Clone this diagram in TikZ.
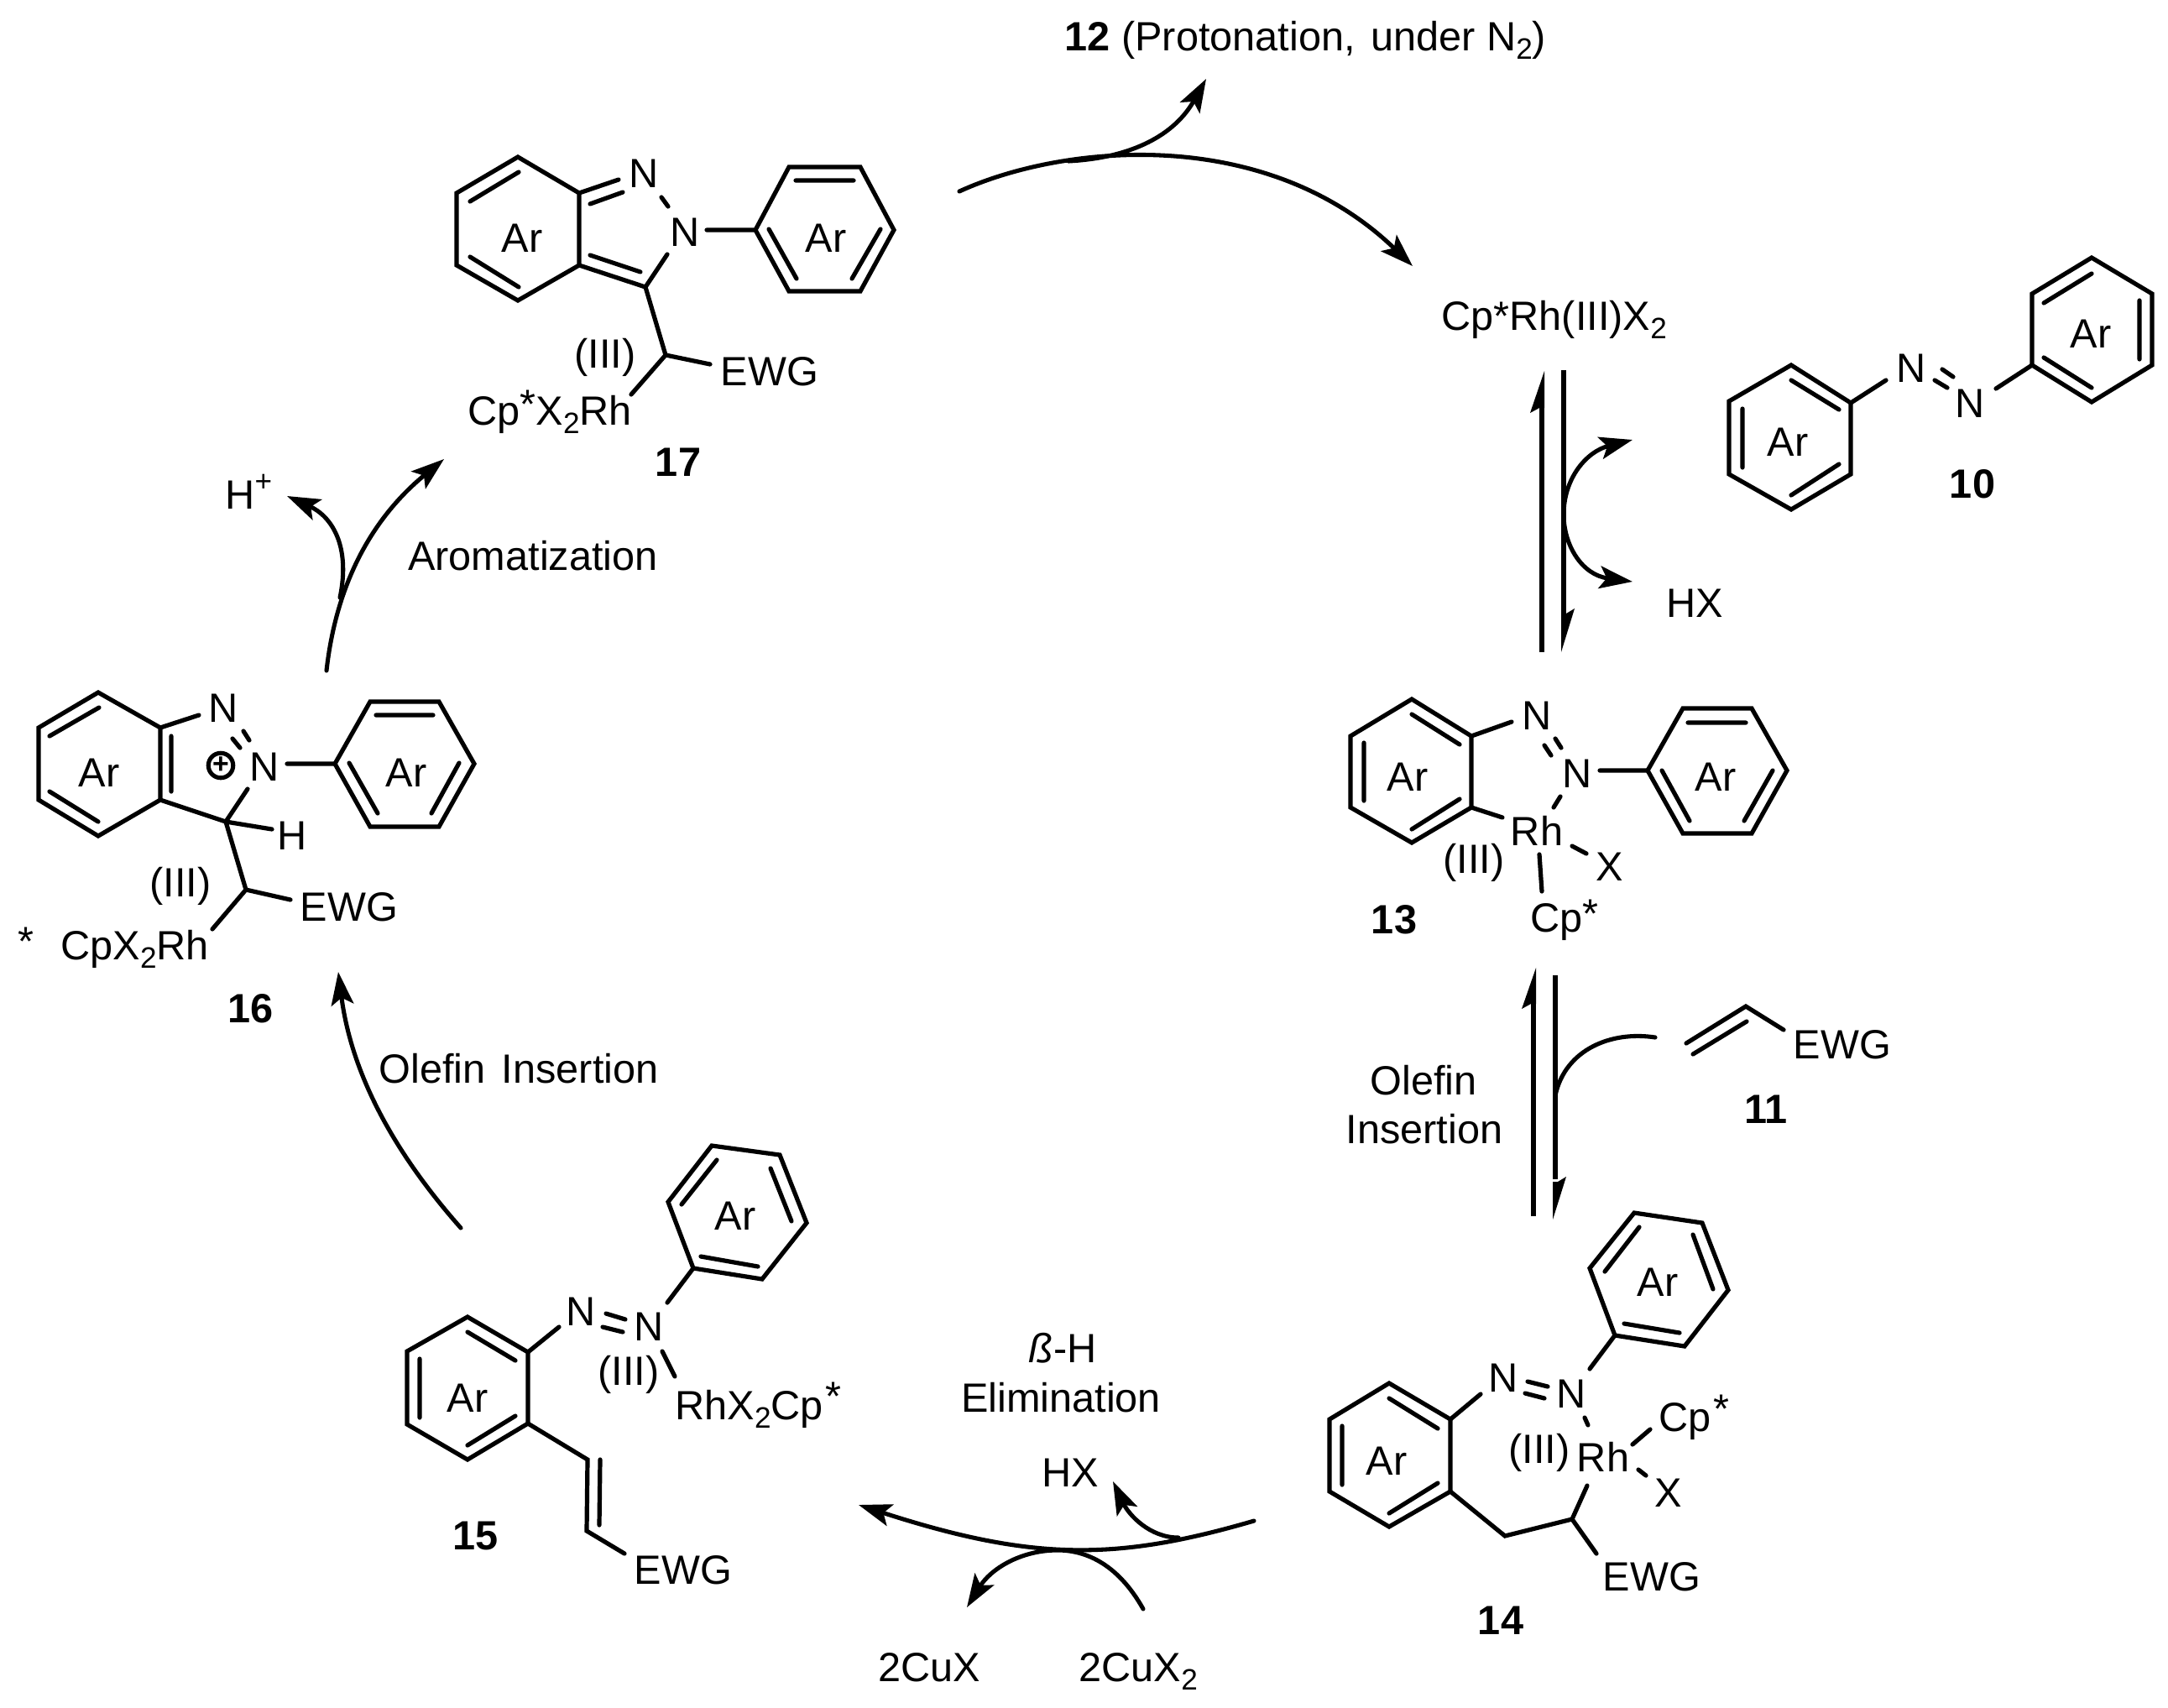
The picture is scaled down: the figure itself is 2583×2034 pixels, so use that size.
\documentclass[tikz,border=0pt]{standalone}
\usepackage{fontspec}
\setmainfont{Liberation Sans}
\usetikzlibrary{arrows.meta}
\newcommand{\sbt}[1]{\raisebox{-.22em}{\fontsize{12.5}{12.5}\selectfont #1}}
\newcommand{\upstar}[1]{\raisebox{#1}{*}}
\tikzset{
  bond/.style={line width=1.85pt,line cap=round,line join=miter,black},
  flow/.style={line width=1.8pt,line cap=round,black},
  arr/.style={flow,-{Stealth[length=14pt,width=9.5pt,inset=3pt]}},
  chem/.style={inner sep=0pt,anchor=base,font=\fontsize{17.3}{20}\selectfont},
  chemw/.style={chem,anchor=base west},
  num/.style={chem,font=\fontsize{17.3}{20}\selectfont\bfseries},
  half/.style={fill=black,draw=none}
}
\begin{document}
\begin{tikzpicture}[x=0.0125cm,y=-0.0125cm]
\useasboundingbox (0,0) rectangle (2583,2034);
% ---------- 10 ----------
\draw[bond] (2134,435)--(2205,480)--(2205,565)--(2134,607)--(2060,565)--(2060,478)--cycle;
\draw[bond] (2134,453)--(2191,488) (2076,487)--(2076,557) (2134,590)--(2191,553);
\draw[bond] (2205,480)--(2247,453) (2314,440)--(2327,449) (2305,453)--(2320,462) (2378,463)--(2421,435);
\draw[bond] (2421,435)--(2421,350)--(2492,307)--(2564,350)--(2564,435)--(2492,479)--cycle;
\draw[bond] (2435,361)--(2492,326) (2549,358)--(2549,428) (2435,426)--(2492,462);
\node[chem] (ar10a) at (2130,543) {Ar};
\node[chem] (ar10b) at (2491,414) {Ar};
\node[chem] (n10a) at (2277,455) {N};
\node[chem] (n10b) at (2347,497) {N};
\node[num] (l10) at (2350,593) {10};
% ---------- 11 ----------
\draw[bond] (2009,1243)--(2080,1199)--(2125,1227) (2017,1256)--(2081,1217);
\node[chem] (ewg11) at (2195,1261) {EWG};
\node[num] (l11) at (2104,1338) {11};
% ---------- 13 ----------
\draw[bond] (1682,833)--(1753,877)--(1753,962)--(1682,1004)--(1609,962)--(1609,877)--cycle;
\draw[bond] (1682,851)--(1739,887) (1625,885)--(1625,954) (1682,988)--(1739,952);
\draw[bond] (1753,877)--(1801,860) (1853,880)--(1860,891) (1840,888)--(1848,900) (1906,918)--(1963,918);
\draw[bond] (1963,918)--(2005,844)--(2087,844)--(2129,918)--(2087,993)--(2005,993)--cycle;
\draw[bond] (2011,861)--(2080,861) (1980,918)--(2013,978) (2112,918)--(2078,978);
\draw[bond] (1859,949)--(1851,962) (1753,962)--(1790,974) (1873,1008)--(1890,1017) (1834,1018)--(1837,1062);
\node[chem] (ar13a) at (1677,942) {Ar};
\node[chem] (ar13b) at (2044,942) {Ar};
\node[chem] (n13a) at (1831,869) {N};
\node[chem] (n13b) at (1879,938) {N};
\node[chem] (rh13) at (1831,1007) {Rh};
\node[chem] (x13) at (1918,1049) {X};
\node[chem] (ox13) at (1756,1040) {(III)};
\node[chemw] (cp13) at (1823,1110) {Cp\upstar{.1em}};
\node[num] (l13) at (1661,1112) {13};
% ---------- 14 ----------
\draw[bond] (1655,1648)--(1728,1691)--(1728,1777)--(1655,1819)--(1584,1777)--(1584,1691)--cycle;
\draw[bond] (1655,1666)--(1713,1702) (1599,1699)--(1599,1769) (1655,1803)--(1713,1767);
\draw[bond] (1728,1691)--(1764,1661) (1820,1646)--(1844,1652) (1817,1660)--(1840,1666) (1894,1631)--(1924,1591);
\draw[bond] (1924,1591)--(1894,1511)--(1947,1445)--(2028,1457)--(2059,1537)--(2007,1604)--cycle;
\draw[bond] (1912,1515)--(1953,1462) (2017,1471)--(2041,1536) (1935,1577)--(2001,1588);
\draw[bond] (1888,1689)--(1892,1698) (1945,1721)--(1966,1703) (1952,1751)--(1961,1758);
\draw[bond] (1891,1770)--(1873,1810)--(1793,1830)--(1728,1777) (1873,1810)--(1902,1851);
\node[chem] (ar14a) at (1652,1757) {Ar};
\node[chem] (ar14b) at (1975,1544) {Ar};
\node[chem] (n14a) at (1791,1658) {N};
\node[chem] (n14b) at (1872,1677) {N};
\node[chem] (rh14) at (1910,1753) {Rh};
\node[chem] (ox14) at (1834,1743) {(III)};
\node[chemw] (cp14) at (1976,1705) {Cp\hspace{.06em}\upstar{.2em}};
\node[chem] (x14) at (1988,1795) {X};
\node[chem] (ewg14) at (1968,1895) {EWG};
\node[num] (l14) at (1788,1947) {14};
% ---------- 15 ----------
\draw[bond] (557,1569)--(629,1611)--(629,1696)--(557,1739)--(485,1697)--(485,1610)--cycle;
\draw[bond] (557,1587)--(614,1621) (500,1619)--(500,1689) (557,1722)--(614,1687);
\draw[bond] (629,1611)--(666,1581) (722,1565)--(745,1572) (718,1581)--(742,1587) (795,1552)--(826,1511);
\draw[bond] (826,1511)--(796,1432)--(848,1365)--(929,1376)--(961,1457)--(908,1524)--cycle;
\draw[bond] (812,1435)--(854,1382) (918,1392)--(943,1455) (835,1497)--(903,1509);
\draw[bond] (789,1610)--(804,1640);
\draw[bond] (629,1696)--(700,1739)--(699,1824)--(744,1851) (715,1739)--(714,1817);
\node[chem] (ar15a) at (557,1682) {Ar};
\node[chem] (ar15b) at (876,1465) {Ar};
\node[chem] (n15a) at (692,1579) {N};
\node[chem] (n15b) at (773,1597) {N};
\node[chem] (ox15) at (749,1650) {(III)};
\node[chemw] (rh15) at (804,1691) {RhX\sbt{2}Cp\hspace{.05em}\upstar{.22em}};
\node[chem] (ewg15) at (814,1887) {EWG};
\node[num] (l15) at (567,1846) {15};
% ---------- 16 ----------
\draw[bond] (117,825)--(191,867)--(191,953)--(117,996)--(46,953)--(46,867)--cycle;
\draw[bond] (59,877)--(118,843) (204,877)--(204,943) (59,943)--(117,979);
\draw[bond] (191,867)--(237,852) (290,871)--(297,882) (277,880)--(286,891) (342,910)--(399,910);
\draw[bond] (399,910)--(441,836)--(523,836)--(565,910)--(523,985)--(441,985)--cycle;
\draw[bond] (448,852)--(516,852) (416,909)--(450,969) (547,909)--(514,969);
\draw[bond] (191,953)--(269,979)--(295,940) (269,979)--(324,988) (269,979)--(293,1060)--(346,1072) (293,1060)--(253,1107);
\node[chem] (ar16a) at (118,937) {Ar};
\node[chem] (ar16b) at (484,937) {Ar};
\node[chem] (n16a) at (266,860) {N};
\node[chem] (n16b) at (315,930) {N};
\node[circle,draw,line width=1.8pt,minimum size=10.5pt,inner sep=0pt,font=\fontsize{12}{12}\selectfont\bfseries] (plus16) at (263,912) {+};
\node[chem] (h16) at (348,1012) {H};
\node[chem] (ewg16) at (416,1097) {EWG};
\node[chem] (ox16) at (215,1068) {(III)};
\node[chemw] (rh16) at (72,1143) {CpX\sbt{2}Rh};
\node[chem] (st16) at (31,1138) {*};
\node[num] (l16) at (299,1218) {16};
% ---------- 17 ----------
\draw[bond] (617,187)--(690,230)--(690,316)--(617,358)--(544,316)--(544,230)--cycle;
\draw[bond] (560,240)--(618,205) (560,306)--(618,342);
\draw[bond] (690,230)--(737,214) (703,243)--(742,229) (788,235)--(796,246) (842,274)--(900,274);
\draw[bond] (900,274)--(940,199)--(1025,199)--(1065,274)--(1025,347)--(940,347)--cycle;
\draw[bond] (948,215)--(1017,215) (916,273)--(949,332) (1049,273)--(1015,332);
\draw[bond] (690,316)--(769,342)--(795,303) (703,304)--(763,324) (769,342)--(793,423)--(846,434) (793,423)--(752,470);
\node[chem] (ar17a) at (622,300) {Ar};
\node[chem] (ar17b) at (984,300) {Ar};
\node[chem] (n17a) at (767,223) {N};
\node[chem] (n17b) at (816,293) {N};
\node[chem] (ewg17) at (917,459) {EWG};
\node[chem] (ox17) at (721,438) {(III)};
\node[chemw] (rh17) at (557,506) {Cp\upstar{.15em}X\sbt{2}Rh};
\node[num] (l17) at (808,567) {17};
% ---------- free texts ----------
\node[chemw] (t12) at (1268,60) {\textbf{12} (Protonation,\hspace{.1em} under N\sbt{2})};
\node[chemw] (cat) at (1717,393) {Cp*Rh(III)X\sbt{2}};
\node[chem] (hx1) at (2019,735) {HX};
\node[chem] (oa) at (1696,1304) {Olefin};
\node[chem] (ob) at (1697,1362) {Insertion};
\node[chem] (be1) at (1266,1623) {\textit{ß}-H};
\node[chem] (be2) at (1264,1682) {Elimination};
\node[chem] (hx2) at (1275,1771) {HX};
\node[chem] (cux) at (1107,2003) {2CuX};
\node[chemw] (cux2) at (1285,2003) {2CuX\sbt{2}};
\node[chem] (ol2) at (618,1290) {Olefin\hspace{.12em} Insertion};
\node[chem] (aro) at (635,679) {Aromatization};
\node[chemw] (hp) at (268,606) {H\raisebox{.42em}{\fontsize{12.5}{12.5}\selectfont +}};
% ---------- arrows ----------
\coordinate (a1s) at (1143,228); \coordinate (a1e) at (1683,317);
\draw[arr] (a1s) .. controls (1270,170) and (1510,150) .. (a1e);
\coordinate (a2s) at (1273,192); \coordinate (a2e) at (1437,94);
\draw[arr] (a2s) .. controls (1350,188) and (1400,160) .. (a2e);
% equilibrium 1
\coordinate (e1a) at (1837,777); \coordinate (e1b) at (1837,485);
\coordinate (e1c) at (1863,441); \coordinate (e1d) at (1863,735);
\draw[flow,line cap=butt] (e1a)--(e1b) (e1c)--(e1d);
\fill[half] (1840,442)--(1823,492)--(1834,486)--(1840,486)--cycle;
\fill[half] (1860,777)--(1876,725)--(1866,731)--(1860,731)--cycle;
\coordinate (c1) at (1863,613); \coordinate (c1u) at (1945,524); \coordinate (c1d) at (1945,693);
\draw[arr] (c1) .. controls (1863,570) and (1890,538) .. (c1u);
\draw[arr] (c1) .. controls (1863,650) and (1885,685) .. (c1d);
% equilibrium 2
\coordinate (e2a) at (1827,1449); \coordinate (e2b) at (1827,1196);
\coordinate (e2c) at (1853,1162); \coordinate (e2d) at (1853,1405);
\draw[flow,line cap=butt] (e2a)--(e2b) (e2c)--(e2d);
\fill[half] (1830,1153)--(1813,1202)--(1824,1196)--(1830,1196)--cycle;
\fill[half] (1850,1453)--(1866,1402)--(1856,1408)--(1850,1408)--cycle;
\coordinate (c2s) at (1972,1236); \coordinate (c2e) at (1853,1305);
\draw[flow] (c2s) .. controls (1920,1228) and (1865,1250) .. (c2e);
% beta-H elimination
\coordinate (b1s) at (1494,1812); \coordinate (b1e) at (1023,1793);
\draw[arr] (b1s) .. controls (1330,1860) and (1230,1860) .. (b1e);
\coordinate (b2s) at (1404,1832); \coordinate (b2e) at (1326,1765);
\draw[arr] (b2s) .. controls (1370,1832) and (1345,1805) .. (b2e);
\coordinate (b3s) at (1362,1917); \coordinate (b3m) at (1260,1847); \coordinate (b3e) at (1152,1915);
\draw[arr] (b3s) .. controls (1330,1860) and (1290,1847) .. (b3m) .. controls (1215,1847) and (1180,1870) .. (b3e);
% left side
\coordinate (l1s) at (389,799); \coordinate (l1e) at (529,547);
\draw[arr] (l1s) .. controls (400,700) and (440,620) .. (l1e);
\coordinate (l2s) at (405,712); \coordinate (l2e) at (342,591);
\draw[arr] (l2s) .. controls (418,650) and (395,615) .. (l2e);
\coordinate (l3s) at (549,1463); \coordinate (l3e) at (403,1158);
\draw[arr] (l3s) .. controls (480,1385) and (420,1290) .. (l3e);
\end{tikzpicture}
\end{document}
